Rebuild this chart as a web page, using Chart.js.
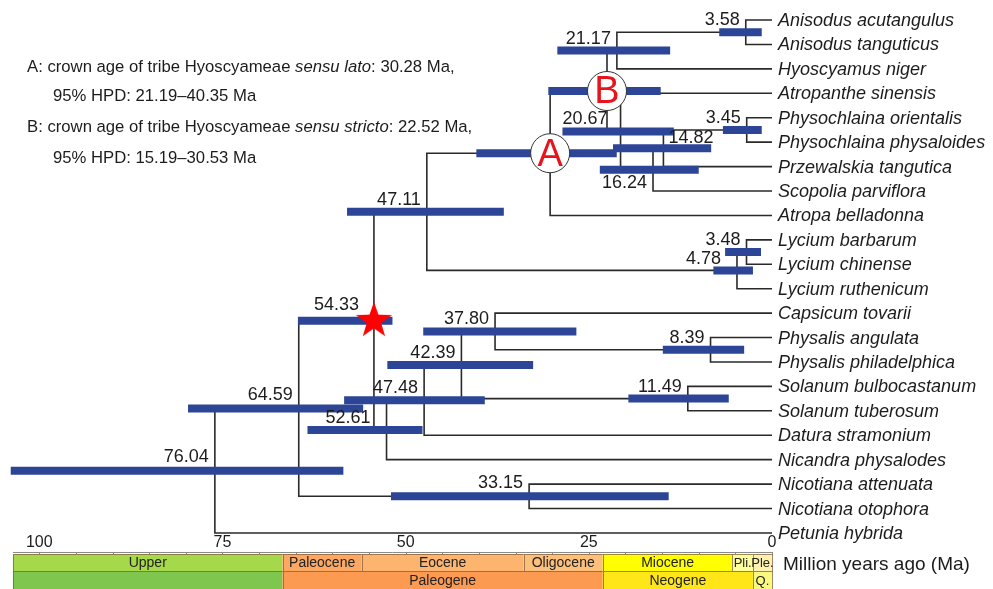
<!DOCTYPE html>
<html>
<head>
<meta charset="utf-8">
<script src="https://cdn.jsdelivr.net/npm/chart.js@4.4.1/dist/chart.umd.min.js"></script>
<style>
  html, body { margin: 0; padding: 0; background: #fff; }
  #wrap { width: 993px; height: 589px; }
</style>
</head>
<body>
<div id="wrap"><canvas id="tree" width="993" height="589"></canvas></div>
<script>
// Tip taxa, top to bottom
const leafNames = [
    'Anisodus acutangulus', 'Anisodus tanguticus', 'Hyoscyamus niger', 'Atropanthe sinensis',
    'Physochlaina orientalis', 'Physochlaina physaloides', 'Przewalskia tangutica', 'Scopolia parviflora',
    'Atropa belladonna', 'Lycium barbarum', 'Lycium chinense', 'Lycium ruthenicum',
    'Capsicum tovarii', 'Physalis angulata', 'Physalis philadelphica', 'Solanum bulbocastanum',
    'Solanum tuberosum', 'Datura stramonium', 'Nicandra physalodes', 'Nicotiana attenuata',
    'Nicotiana otophora', 'Petunia hybrida'
];

// Internal nodes (children always listed before parents)
// 'L3' = leaf 3, 'N5' = node 5
const nodeAges = [3.58, 21.17, 3.45, 14.82, 16.24, 20.67, 22.52, 30.28, 3.48, 4.78, 47.11,
    8.39, 37.80, 11.49, 42.39, 47.48, 52.61, 54.33, 33.15, 64.59, 76.04];
const nodeChildren = [
    ['L0', 'L1'], ['N0', 'L2'], ['L4', 'L5'], ['N2', 'L6'], ['N3', 'L7'], ['L3', 'N4'],
    ['N1', 'N5'], ['N6', 'L8'], ['L9', 'L10'], ['N8', 'L11'], ['N7', 'N9'],
    ['L13', 'L14'], ['L12', 'N11'], ['L15', 'L16'], ['N12', 'N13'], ['N14', 'L17'],
    ['N15', 'L18'], ['N10', 'N16'], ['L19', 'L20'], ['N17', 'N18'], ['N19', 'L21']
];
// 95% HPD intervals (Ma)
const hpdLow = [1.4, 13.9, 1.4, 8.3, 10.0, 13.4, 15.19, 21.19, 1.5, 2.6, 36.6,
    3.8, 26.7, 5.9, 32.6, 39.2, 47.7, 51.8, 14.1, 55.8, 58.5];
const hpdHigh = [7.2, 29.3, 6.7, 21.7, 23.5, 28.6, 30.53, 40.35, 6.4, 8.0, 58.0,
    14.9, 47.6, 19.6, 52.5, 58.4, 63.4, 64.7, 52.0, 79.7, 103.9];

// Marked nodes
const circleNodes = [7, 6];
const circleLetters = ['A', 'B'];
const starNode = 17;

// Axis ticks
const tickLabels = [100, 75, 50, 25, 0];

// Geological time scale
const epochNames = ['Upper', 'Paleocene', 'Eocene', 'Oligocene', 'Miocene', 'Pli.', 'Ple.'];
const epochFrom = [103.6, 66.8, 56, 33.9, 23.1, 5.4, 2.6];
const epochTo = [66.8, 56, 33.9, 23.1, 5.4, 2.6, 0];
const periodNames = ['', 'Paleogene', 'Neogene', 'Q.'];
const periodFrom = [103.6, 66.8, 23.1, 2.6];
const periodTo = [66.8, 23.1, 2.6, 0];

// Notes at top left
const noteLines = [
    [['A: crown age of tribe Hyoscyameae ', false], ['sensu lato', true], [': 30.28 Ma,', false]],
    [['95% HPD: 21.19\u201340.35 Ma', false]],
    [['B: crown age of tribe Hyoscyameae ', false], ['sensu stricto', true], [': 22.52 Ma,', false]],
    [['95% HPD: 15.19\u201330.53 Ma', false]]
];

// --- layout / styles ---
const SANS = '"Liberation Sans", Arial, sans-serif';
const NARROW = '"Liberation Sans Narrow", "Liberation Sans", Arial, sans-serif';
const BAR_BLUE = '#2d4597';
const LINE_COL = '#2a2a2a';
const TEXT_COL = '#1c1c1c';
const epochColors = ['#a6d84c', '#fda862', '#fdb46e', '#fdc07a', '#ffff00', '#ffff99', '#fff2ae'];
const periodColors = ['#7fc64e', '#fd9a52', '#ffe619', '#f9f97f'];
const noteX = [27, 53, 27, 53];
const noteY = [67, 96, 127, 158];
// label nudges [dx, dy, align] relative to default (right-aligned left of node, above bar)
const labelNudge = { 3: [11, 2, 'left'], 4: [0, 25], 5: [-7, 0], 9: [-10, 1], 16: [-10, 0], 17: [-9, -4], 19: [0, -2], 20: [0, -2], 18: [0, -1] };

// Resolve rows (y) and ages (x) of nodes
const nodeRows = [];
function rowOf(ref) {
    const i = parseInt(ref.slice(1));
    return ref[0] === 'L' ? i : nodeRows[i];
}
function ageOf(ref) {
    const i = parseInt(ref.slice(1));
    return ref[0] === 'L' ? 0 : nodeAges[i];
}
nodeChildren.forEach((kids, i) => {
    nodeRows[i] = (rowOf(kids[0]) + rowOf(kids[kids.length - 1])) / 2;
});

// Star marker drawn once on an offscreen canvas
function makeStar(r) {
    const c = document.createElement('canvas');
    c.width = c.height = 2 * r + 2;
    const g = c.getContext('2d');
    g.fillStyle = '#ff0000';
    g.beginPath();
    for (let k = 0; k < 10; k++) {
        const rad = k % 2 ? r * 0.4 : r;
        const a = -Math.PI / 2 + k * Math.PI / 5;
        g.lineTo(r + 1 + rad * Math.cos(a), r + 1 + rad * Math.sin(a));
    }
    g.closePath();
    g.fill();
    return c;
}

// Datasets
const datasets = [];

// circles A / B
datasets.push({
    data: circleNodes.map(n => ({ x: nodeAges[n], y: nodeRows[n] })),
    pointRadius: 19.5,
    pointBackgroundColor: '#fff',
    pointBorderColor: '#333',
    pointBorderWidth: 1,
    showLine: false,
    clip: false,
    order: 0
});

// star
datasets.push({
    data: [{ x: nodeAges[starNode], y: nodeRows[starNode] }],
    pointStyle: makeStar(19),
    showLine: false,
    clip: false,
    order: 0
});

// HPD bars
nodeAges.forEach((age, i) => {
    datasets.push({
        data: [{ x: hpdHigh[i], y: nodeRows[i] }, { x: hpdLow[i], y: nodeRows[i] }],
        showLine: true,
        borderColor: BAR_BLUE,
        borderWidth: 8,
        borderCapStyle: 'butt',
        pointRadius: 0,
        clip: false,
        order: 2
    });
});

// branches: one elbow per node
nodeChildren.forEach((kids, i) => {
    const a = kids[0], b = kids[kids.length - 1];
    datasets.push({
        data: [
            { x: ageOf(a), y: rowOf(a) },
            { x: nodeAges[i], y: rowOf(a) },
            { x: nodeAges[i], y: rowOf(b) },
            { x: ageOf(b), y: rowOf(b) }
        ],
        showLine: true,
        borderColor: LINE_COL,
        borderWidth: 1.6,
        pointRadius: 0,
        clip: false,
        order: 3
    });
});

// Text, axis and time scale
const treeDecor = {
    id: 'treeDecor',
    afterDraw(chart) {
        const ctx = chart.ctx;
        const xs = chart.scales.x, ys = chart.scales.y;
        ctx.save();
        ctx.textBaseline = 'middle';

        // letters in circles
        ctx.fillStyle = '#e8141c';
        ctx.font = '38px ' + SANS;
        ctx.textAlign = 'center';
        circleNodes.forEach((n, k) => {
            ctx.fillText(circleLetters[k], xs.getPixelForValue(nodeAges[n]), ys.getPixelForValue(nodeRows[n]) + 2);
        });

        // node ages (circled nodes carry the letter instead)
        ctx.fillStyle = TEXT_COL;
        ctx.font = '18px ' + SANS;
        nodeAges.forEach((age, i) => {
            if (circleNodes.includes(i)) return;
            const nd = labelNudge[i] || [0, 0];
            ctx.textAlign = nd[2] || 'right';
            const px = xs.getPixelForValue(age) - 6 + nd[0];
            const py = ys.getPixelForValue(nodeRows[i]) - 12 + nd[1];
            ctx.fillText(age.toFixed(2), px, py);
        });

        // tip names
        ctx.font = 'italic 18px ' + SANS;
        ctx.textAlign = 'left';
        leafNames.forEach((name, i) => {
            ctx.fillText(name, xs.getPixelForValue(0) + 6, ys.getPixelForValue(i) + 1);
        });

        // notes
        noteLines.forEach((segs, k) => {
            let x = noteX[k];
            segs.forEach(([txt, it]) => {
                ctx.font = (it ? 'italic ' : '') + '16.7px ' + SANS;
                ctx.fillText(txt, x, noteY[k]);
                x += ctx.measureText(txt).width;
            });
        });

        // time axis
        const axisY = 552;
        ctx.strokeStyle = '#8a8a8a';
        ctx.lineWidth = 1;
        ctx.beginPath();
        ctx.moveTo(xs.getPixelForValue(103.6), axisY + 0.5);
        ctx.lineTo(xs.getPixelForValue(0), axisY + 0.5);
        for (let v = 0; v <= 100; v += 5) {
            const px = Math.round(xs.getPixelForValue(v)) + 0.5;
            ctx.moveTo(px, axisY);
            ctx.lineTo(px, axisY + 3);
        }
        ctx.stroke();
        ctx.fillStyle = TEXT_COL;
        ctx.font = '16px ' + SANS;
        ctx.textAlign = 'center';
        tickLabels.forEach(v => {
            ctx.fillText(String(v), xs.getPixelForValue(v), axisY - 9);
        });

        // geological bands
        const rows = [[epochNames, epochFrom, epochTo, epochColors, 554, 17], [periodNames, periodFrom, periodTo, periodColors, 571, 19]];
        rows.forEach(([names, from, to, cols, top, h]) => {
            names.forEach((nm, k) => {
                const x0 = xs.getPixelForValue(from[k]);
                const x1 = xs.getPixelForValue(to[k]);
                ctx.fillStyle = cols[k];
                ctx.fillRect(x0, top, x1 - x0, h);
                ctx.strokeStyle = 'rgba(130,95,60,0.75)';
                ctx.strokeRect(Math.round(x0) + 0.5, top + 0.5, Math.round(x1 - x0), h);
                if (nm) {
                    ctx.fillStyle = '#222';
                    ctx.font = (nm.length < 5 ? '13px ' : '14px ') + NARROW;
                    ctx.fillText(nm, (x0 + x1) / 2, top + h / 2 + 1);
                }
            });
        });

        ctx.fillStyle = TEXT_COL;
        ctx.font = '19px ' + SANS;
        ctx.textAlign = 'left';
        ctx.fillText('Million years ago (Ma)', 783, 565);
        ctx.restore();
    }
};

const treeChart = new Chart(document.getElementById('tree'), {
    type: 'scatter',
    data: { datasets },
    options: {
        responsive: false,
        animation: false,
        layout: { autoPadding: false, padding: { left: 10, right: 221, top: 0, bottom: 37 } },
        scales: {
            x: { type: 'linear', min: 0, max: 104, reverse: true, display: false },
            y: { type: 'linear', min: -0.82, max: 21.78, reverse: true, display: false }
        },
        plugins: {
            legend: { display: false },
            tooltip: { enabled: false }
        }
    },
    plugins: [treeDecor]
});
</script>
</body>
</html>
